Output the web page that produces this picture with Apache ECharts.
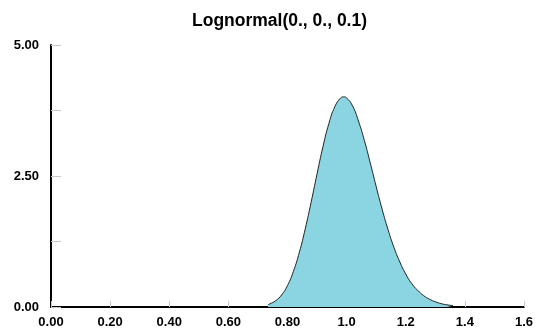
<!DOCTYPE html>
<html>
<head>
<meta charset="utf-8">
<script src="https://cdn.jsdelivr.net/npm/echarts@6/dist/echarts.min.js"></script>
<style>
html,body{margin:0;padding:0;background:#fff;}
#c{width:536px;height:331px;}
</style>
</head>
<body>
<div id="c"></div>
<script>
var titleText = "Lognormal(0., 0., 0.1)";
var xValues = [0.734, 0.74, 0.76, 0.78, 0.80, 0.82, 0.84, 0.86, 0.88, 0.90, 0.92, 0.94, 0.96, 0.98, 0.99, 1.00,
               1.02, 1.04, 1.06, 1.08, 1.10, 1.12, 1.14, 1.16, 1.18, 1.20, 1.22, 1.24, 1.26, 1.28, 1.30,
               1.32, 1.34, 1.36, 1.362];
var densityValues = [0.045, 0.058, 0.12, 0.23, 0.41, 0.68, 1.04, 1.49, 2.00, 2.54, 3.06, 3.50, 3.82, 3.99, 4.01, 3.99,
                     3.84, 3.55, 3.18, 2.75, 2.30, 1.87, 1.48, 1.14, 0.86, 0.63, 0.45, 0.32, 0.22, 0.15, 0.10,
                     0.064, 0.041, 0.026, 0.024];
var yTicks = [0, 1.25, 2.5, 3.75, 5];
var yLabels = ["0.00", "", "2.50", "", "5.00"];
var xTicks = [0, 0.2, 0.4, 0.6, 0.8, 1.0, 1.2, 1.4, 1.6];
var xLabels = ["0.00", "0.20", "0.40", "0.60", "0.80", "1.0", "1.2", "1.4", "1.6"];

var data = xValues.map(function (x, i) { return [x, densityValues[i]]; });
function lookup(ticks, labels, v) {
  for (var i = 0; i < ticks.length; i++) if (Math.abs(ticks[i] - v) < 1e-6) return labels[i];
  return "";
}
var chart = echarts.init(document.getElementById('c'), null, {renderer: 'canvas'});
chart.setOption({
  animation: false,
  backgroundColor: '#fff',
  title: {
    text: titleText, left: 187, top: 7,
    textStyle: {fontFamily: 'Liberation Sans, Arial, sans-serif', fontWeight: 'bold', fontSize: 17.5, color: '#000'}
  },
  grid: {left: 51, right: 10, top: 45, bottom: 24, containLabel: false},
  xAxis: {
    type: 'value', min: 0, max: 1.6, interval: 0.2,
    axisLine: {show: true, onZero: false, lineStyle: {color: '#000', width: 2}},
    axisTick: {show: true, inside: true, length: 6, lineStyle: {color: '#c8c8c8', width: 1}},
    splitLine: {show: false},
    axisLabel: {
      margin: 9, color: '#000', fontFamily: 'Liberation Sans, Arial, sans-serif', fontWeight: 'bold', fontSize: 13,
      showMaxLabel: true, showMinLabel: true,
      formatter: function (v) { return lookup(xTicks, xLabels, v); }
    }
  },
  yAxis: {
    type: 'value', min: 0, max: 5, interval: 1.25,
    axisLine: {show: true, lineStyle: {color: '#000', width: 2}},
    axisTick: {show: true, inside: true, length: 10, lineStyle: {color: '#c8c8c8', width: 1}},
    splitLine: {show: false},
    axisLabel: {
      margin: 12, color: '#000', fontFamily: 'Liberation Sans, Arial, sans-serif', fontWeight: 'bold', fontSize: 13,
      formatter: function (v) { return lookup(yTicks, yLabels, v); }
    }
  },
  series: [{
    type: 'line', data: data, smooth: true, showSymbol: false, symbol: 'none',
    lineStyle: {color: '#222', width: 1},
    areaStyle: {color: '#8ad5e1', opacity: 1, origin: 'start'}
  }]
});
</script>
</body>
</html>
